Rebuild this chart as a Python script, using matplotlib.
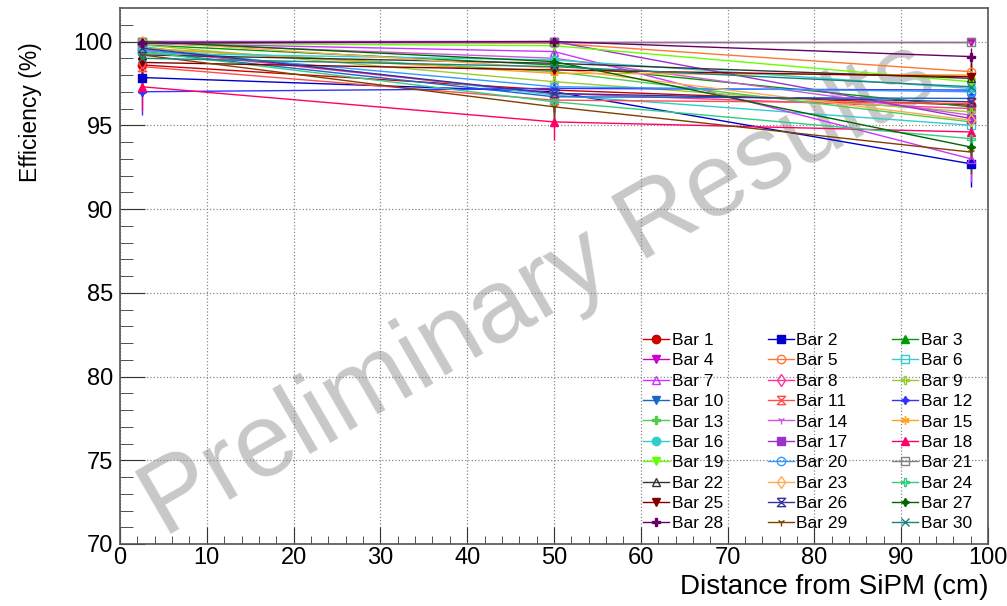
import matplotlib
matplotlib.use("Agg")
import matplotlib.pyplot as plt
from matplotlib.path import Path
from matplotlib.lines import Line2D
import numpy as np

plt.rcParams['font.family'] = ['Liberation Sans', 'DejaVu Sans']

# distances along the bar (cm)
distances = [2.5, 50, 98]

labels = [f"Bar {i}" for i in range(1, 31)]

# efficiency (%) at each distance
eff_near = [98.6, 97.85, 99.8, 100, 100, 99.7, 99.9, 99.5, 99.8, 99.4,
            98.5, 97.0, 99.6, 99.9, 99.6, 99.3, 100, 97.3, 99.9, 99.5,
            100, 99.2, 100, 99.4, 98.75, 99.6, 100, 99.9, 99.2, 99.0]
eff_mid = [97.1, 97.0, 98.6, 100, 99.9, 96.8, 99.4, 96.9, 97.6, 96.7,
           96.5, 97.2, 98.2, 99.0, 98.1, 98.9, 100, 95.2, 99.75, 97.3,
           100, 98.7, 98.4, 96.4, 98.3, 96.9, 98.8, 100, 96.1, 98.5]
eff_far = [96.2, 92.7, 96.1, 100, 98.2, 95.0, 93.0, 96.0, 95.8, 96.6,
           96.3, 97.1, 95.2, 95.6, 98.0, 97.2, 95.4, 94.6, 97.6, 97.0,
           100, 97.8, 95.3, 94.2, 97.9, 96.4, 93.7, 99.1, 93.4, 97.3]

# statistical uncertainties (%)
err_near = [0.9, 1.1, 0.3, 0, 0, 0.4, 0.2, 0.5, 0.3, 0.6,
            0.9, 1.4, 0.4, 0.2, 0.4, 0.6, 0, 1.4, 0.2, 0.5,
            0, 0.7, 0, 0.6, 0.8, 0.4, 0, 0.2, 0.7, 0.7]
err_mid = [1.1, 1.2, 0.8, 0, 0.2, 1.2, 0.5, 1.1, 1.0, 1.2,
           1.2, 1.3, 0.9, 0.7, 0.9, 0.7, 0, 1.1, 0.3, 1.0,
           0, 0.8, 0.8, 1.2, 0.9, 1.1, 0.7, 0, 1.2, 0.8]
err_far = [1.0, 1.4, 1.0, 0, 0.7, 1.1, 1.4, 1.0, 1.0, 0.9,
           1.0, 0.9, 1.1, 1.0, 0.8, 0.9, 1.1, 1.2, 0.8, 0.9,
           0, 0.8, 1.1, 1.2, 0.8, 1.0, 1.3, 0.5, 1.3, 0.9]

colors = ['#cc0000', '#0000cc', '#009900', '#cc00cc', '#ff7733', '#33cccc',
          '#cc33ff', '#ff3399', '#99cc33', '#1966cc', '#ff4d4d', '#3333ff',
          '#4dcc4d', '#cc55dd', '#ffa31a', '#33cccc', '#9933cc', '#ff0066',
          '#66ff00', '#3399ff', '#808080', '#333333', '#ffaa55', '#33cc80',
          '#800000', '#333399', '#006600', '#660066', '#804000', '#1a8080']

hourglass = Path([(-1, 1), (1, 1), (-1, -1), (1, -1), (-1, 1)])
star4 = (4, 1, 0)
aster = (6, 2, 0)
markers = ['o', 's', '^', 'v', 'o', 's', '^', 'd', 'P', 'v',
           hourglass, star4, 'P', '1', aster, 'o', 's', '^', 'v', 'o',
           's', '^', 'd', 'P', 'v', hourglass, star4, 'P', '1', 'x']
hollow = [False, False, False, False, True, True, True, True, True, False,
          True, False, False, False, False, False, False, False, False, True,
          True, True, True, True, False, True, False, False, False, False]

fig = plt.figure(figsize=(10.07, 6.06), dpi=100)
ax = fig.add_axes([120 / 1007, 62 / 606, 868 / 1007, 536 / 606])

handles = []
for i in range(30):
    y = np.array([eff_near[i], eff_mid[i], eff_far[i]])
    e = np.array([err_near[i], err_mid[i], err_far[i]])
    e_hi = np.minimum(e, 100 - y)
    c = colors[i]
    style = dict(color=c, lw=1.0, marker=markers[i], ms=6, mec=c,
                 mfc='none' if hollow[i] else c, mew=1.0)
    ax.errorbar(distances, y, yerr=[e, e_hi], elinewidth=1.0, capsize=0,
                zorder=3, **style)
    handles.append(Line2D([], [], **style))

ax.set_xlim(0, 100)
ax.set_ylim(70, 102)
ax.set_xticks(np.arange(0, 101, 10))
ax.set_xticks(np.arange(0, 101, 2), minor=True)
ax.set_yticks(np.arange(70, 101, 5))
ax.set_yticks(np.arange(70, 102, 1), minor=True)
ax.tick_params(axis='both', which='both', direction='in', top=False,
               right=False, labelsize=17, color='#333333')
ax.tick_params(axis='x', which='major', length=12, pad=2)
ax.tick_params(axis='x', which='minor', length=6)
ax.tick_params(axis='y', which='major', length=18, pad=5)
ax.tick_params(axis='y', which='minor', length=9)
ax.grid(True, which='major', ls=':', color='#888888', lw=0.9)
for s in ax.spines.values():
    s.set_color('#555555')
    s.set_linewidth(1.2)

ax.set_xlabel("Distance from SiPM (cm)", fontsize=20, loc='right', labelpad=4)
ax.set_ylabel("Efficiency (%)", fontsize=16.5, loc='top')
ax.yaxis.set_label_coords(-0.09, 0.937)

# watermark
fig.text(0.163, 0.112, "Preliminary Results", fontsize=75, color='#c8c8c8',
         rotation=30, rotation_mode='anchor', ha='left', va='baseline',
         zorder=0)
ax.set_zorder(1)
ax.patch.set_alpha(0)

# legend laid out row by row: Bar 1, 2, 3 across the first row
order = [r * 3 + c for c in range(3) for r in range(10)]
ax.legend([handles[k] for k in order], [labels[k] for k in order],
          ncol=3, loc='upper left', bbox_to_anchor=(0.593, 0.41),
          frameon=False, fontsize=12.5, handlelength=1.5, handletextpad=0.15,
          columnspacing=2.55, labelspacing=0.3, borderpad=0)

fig.savefig("out.png", dpi=100)
